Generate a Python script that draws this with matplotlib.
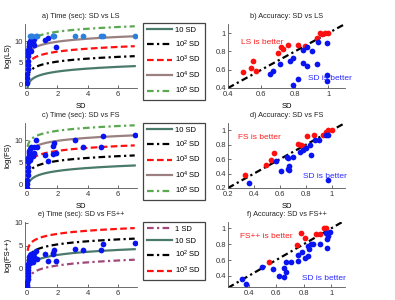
import numpy as np
import matplotlib
matplotlib.use('Agg')
import matplotlib.pyplot as plt
from matplotlib.ticker import FuncFormatter

plt.rcParams['font.family'] = ['Liberation Sans', 'DejaVu Sans']
plt.rcParams['mathtext.default'] = 'regular'
plt.rcParams['font.size'] = 5.5

# ---- time panels: SD time (sec) vs log(time) of the other method ----
sd_time = [0.02, 0.03, 0.04, 0.05, 0.06, 0.07, 0.08, 0.09, 0.10, 0.12, 0.14,
           0.16, 0.18, 0.20, 0.25, 0.30, 0.35, 0.40, 0.45, 0.50, 0.60, 0.70,
           1.20, 1.40, 1.70, 1.75, 1.80, 1.90, 3.20, 3.70, 4.90, 5.00, 7.10]
log_ls = [0.3, 1.5, 2.5, 3.5, 4.5, 5.5, 6.5, 7.3, 8.0, 8.5, 9.0,
          9.5, 10.0, 11.3, 11.3, 7.8, 11.3, 9.8, 10.5, 9.2, 11.3, 11.3,
          10.3, 10.7, 11.3, 11.3, 11.3, 8.7, 11.3, 11.3, 11.3, 11.3, 11.3]
log_fs = [-0.8, 0.0, 1.0, 2.0, 3.0, 4.0, 5.0, 5.5, 6.0, 6.5, 7.2,
          7.5, 5.5, 8.0, 6.2, 8.4, 7.0, 6.5, 8.5, 7.2, 10.0, 8.6,
          6.7, 5.3, 8.7, 7.0, 9.5, 7.1, 10.0, 8.4, 8.5, 11.0, 11.2]
log_fspp = [-4.0, -3.5, -3.0, -2.3, -1.5, -1.0, -0.3, 0.3, 1.0, 1.5, 2.0,
            2.6, 1.2, 3.0, 2.2, 3.3, 2.8, 1.5, 3.5, 2.5, 3.9, 2.1,
            3.3, 1.6, 3.5, 3.2, 4.0, 1.6, 4.4, 4.0, 4.0, 5.5, 5.6]
ls_timeout = 11.3

# reference curves: log(k * SD time) for the multipliers in the legends
mult_labels = {1: '1 SD', 10: '10 SD', 100: '10$^2$ SD', 1000: '10$^3$ SD',
               10000: '10$^4$ SD', 100000: '10$^5$ SD'}
mult_styles = {1: dict(color='#a0487a', ls=(0, (3, 1.5, 1, 1.5))),
               10: dict(color='#4a7a6c', ls='-'),
               100: dict(color='black', ls=(0, (3, 1.5, 1, 1.5))),
               1000: dict(color='#ff1010', ls=(0, (3, 1.5))),
               10000: dict(color='#9a8080', ls='-'),
               100000: dict(color='#5aa850', ls=(0, (3, 1.5, 1, 1.5)))}

# ---- accuracy panels: SD accuracy vs other method accuracy ----
ls_red_sd = [0.49, 0.54, 0.55, 0.57, 0.70, 0.72, 0.73, 0.76, 0.82, 0.86, 0.93, 0.95, 0.96, 0.98, 1.00]
ls_red_y = [0.58, 0.62, 0.69, 0.59, 0.78, 0.85, 0.83, 0.875, 0.87, 0.86, 0.95, 1.00, 0.99, 1.00, 1.00]
ls_blue_sd = [0.65, 0.67, 0.71, 0.77, 0.79, 0.85, 0.87, 0.90, 0.85, 0.87, 0.93, 0.94, 0.99, 0.79, 0.82, 0.99, 0.99]
ls_blue_y = [0.55, 0.59, 0.66, 0.70, 0.73, 0.82, 0.85, 0.80, 0.67, 0.64, 0.66, 0.90, 0.89, 0.43, 0.50, 0.54, 0.48]

fs_red_sd = [0.33, 0.49, 0.53, 0.55, 0.74, 0.76, 0.78, 0.81, 0.86, 0.93, 0.95, 0.97, 1.00]
fs_red_y = [0.38, 0.52, 0.59, 0.69, 0.81, 0.80, 0.78, 0.92, 0.93, 0.93, 0.98, 1.00, 1.00]
fs_blue_sd = [0.36, 0.57, 0.61, 0.65, 0.66, 0.67, 0.67, 0.66, 0.70, 0.75, 0.78, 0.80, 0.83, 0.84, 0.87, 0.90, 0.95, 0.97, 0.97]
fs_blue_y = [0.27, 0.58, 0.44, 0.63, 0.61, 0.45, 0.51, 0.46, 0.63, 0.70, 0.73, 0.75, 0.80, 0.66, 0.87, 0.87, 0.94, 0.94, 0.31]

fspp_red_sd = [0.55, 0.78, 0.81, 0.75, 0.89, 0.92, 0.95, 0.96]
fspp_red_y = [0.57, 0.94, 0.88, 0.79, 0.93, 0.93, 1.00, 1.00]
fspp_blue_sd = [0.35, 0.38, 0.50, 0.58, 0.62, 0.66, 0.67, 0.66, 0.67, 0.71, 0.76, 0.76, 0.79, 0.81,
                0.83, 0.84, 0.85, 0.87, 0.83, 0.92, 0.97, 0.97, 0.98, 0.96, 0.99]
fspp_blue_y = [0.36, 0.30, 0.51, 0.49, 0.40, 0.50, 0.45, 0.38, 0.57, 0.57, 0.59, 0.67, 0.70, 0.62,
               0.65, 0.74, 0.80, 0.80, 0.78, 0.80, 0.75, 0.87, 0.90, 0.94, 0.95]

W, H = 395, 300
fig = plt.figure(figsize=(W / 100, H / 100), dpi=100)


def px_axes(left, top, right, bottom):
    return fig.add_axes([left / W, 1 - bottom / H, (right - left) / W, (bottom - top) / H])


def style(ax):
    for s in ['top', 'right']:
        ax.spines[s].set_visible(False)
    for s in ['left', 'bottom']:
        ax.spines[s].set_color('#555555')
        ax.spines[s].set_linewidth(0.6)
    ax.tick_params(direction='in', length=2, width=0.5, colors='#333333', labelsize=5.5, pad=1.5)
    ax.tick_params(axis='x', pad=2.5)


fmt = FuncFormatter(lambda v, p: '%g' % v)
rows = [
    dict(top=24, bottom=88, y=log_ls, ylab='log(LS)', title='a) Time (sec): SD vs LS',
         ylim=(-0.8, 14.0), yt=[0, 5, 10], mults=[10, 100, 1000, 10000, 100000], leg=(23, 78),
         rsd=ls_red_sd, ry=ls_red_y, bsd=ls_blue_sd, by=ls_blue_y, name='LS',
         rtitle='b) Accuracy: SD vs LS', rlim=(0.4, 1.1), rylim=(0.4, 1.1), rt=[0.4, 0.6, 0.8, 1],
         good=(0.48, 0.90), bad=(0.88, 0.50), xlab=True),
    dict(top=123, bottom=188, y=log_fs, ylab='log(FS)', title='c) Time (sec): SD vs FS',
         ylim=(-0.9, 14.0), yt=[0, 5, 10], mults=[10, 100, 1000, 10000, 100000], leg=(123, 178),
         rsd=fs_red_sd, ry=fs_red_y, bsd=fs_blue_sd, by=fs_blue_y, name='FS',
         rtitle='d) Accuracy: SD vs FS', rlim=(0.2, 1.1), rylim=(0.2, 1.1), rt=[0.2, 0.4, 0.6, 0.8, 1],
         good=(0.28, 0.90), bad=(0.78, 0.36), xlab=True),
    dict(top=222, bottom=287, y=log_fspp, ylab='log(FS++)', title='e) Time (sec): SD vs FS++',
         ylim=(-4.0, 10.2), yt=[0, 5, 10], mults=[1, 10, 100, 1000], leg=(222, 263),
         rsd=fspp_red_sd, ry=fspp_red_y, bsd=fspp_blue_sd, by=fspp_blue_y, name='FS++',
         rtitle='f) Accuracy: SD vs FS++', rlim=(0.25, 1.1), rylim=(0.26, 1.08), rt=[0.4, 0.6, 0.8, 1],
         good=(0.34, 0.90), bad=(0.79, 0.37), xlab=False),
]

xs = np.array(sd_time)
grid = np.geomspace(0.05, max(sd_time), 200)
for r in rows:
    # left: time
    ax = px_axes(25, r['top'], 137, r['bottom'])
    style(ax)
    handles = []
    for k in r['mults']:
        h, = ax.plot(grid, np.log(k * grid), lw=1.6, label=mult_labels[k], zorder=2, **mult_styles[k])
        handles.append(h)
    yv = np.array(r['y'])
    if r['name'] == 'LS':
        top = yv >= ls_timeout
        ax.scatter(xs[~top], yv[~top], s=17, color='#0a14f0', lw=0, zorder=3)
        ax.scatter(xs[top], yv[top], s=17, color='#2c7fdc', lw=0, zorder=3)
    else:
        ax.scatter(xs, yv, s=17, color='#0a14f0', lw=0, zorder=3)
    ax.set_xlim(-0.12, 7.25)
    ax.set_ylim(*r['ylim'])
    ax.set_xticks([0, 2, 4, 6])
    ax.set_yticks(r['yt'])
    ax.set_title(r['title'], fontsize=5.3, pad=4, color='#222222')
    ax.set_ylabel(r['ylab'], fontsize=5.5, labelpad=2)
    if r['xlab']:
        ax.set_xlabel('SD', fontsize=5.5, labelpad=3)
    leg = fig.legend(handles=handles, loc='upper left', bbox_to_anchor=(143 / W, 1 - r['leg'][0] / H),
                     bbox_transform=fig.transFigure, borderaxespad=0, fontsize=5.5, fancybox=False,
                     handlelength=3.3, handletextpad=0.4, labelspacing=0.55, borderpad=0.5,
                     edgecolor='#444444', framealpha=1)
    leg.get_frame().set_linewidth(0.9)

    # right: accuracy
    ax2 = px_axes(228, r['top'], 345, r['bottom'])
    style(ax2)
    lo = r['rlim'][0]
    ax2.plot([lo, 1.1], [lo, 1.1], color='black', lw=1.6, ls=(0, (3, 1.5, 1, 1.5)), zorder=2)
    ax2.scatter(r['rsd'], r['ry'], s=17, color='#ff1010', lw=0, zorder=3)
    ax2.scatter(r['bsd'], r['by'], s=17, color='#0a14f0', lw=0, zorder=3)
    ax2.set_xlim(*r['rlim'])
    ax2.set_ylim(*r['rylim'])
    ax2.set_xticks(r['rt'])
    ax2.set_yticks(r['rt'])
    ax2.xaxis.set_major_formatter(fmt)
    ax2.yaxis.set_major_formatter(fmt)
    ax2.set_title(r['rtitle'], fontsize=5.3, pad=4, color='#222222')
    ax2.set_ylabel(r['name'], fontsize=5.5, labelpad=5)
    if r['xlab']:
        ax2.set_xlabel('SD', fontsize=5.5, labelpad=3)
    ax2.text(r['good'][0], r['good'][1], r['name'] + ' is better', color='#ff2020', fontsize=6,
             va='center', ha='left', zorder=4)
    ax2.text(r['bad'][0], r['bad'][1], 'SD is better', color='#2a2aff', fontsize=6,
             va='center', ha='left', zorder=4)

fig.savefig('out.png', dpi=100)
